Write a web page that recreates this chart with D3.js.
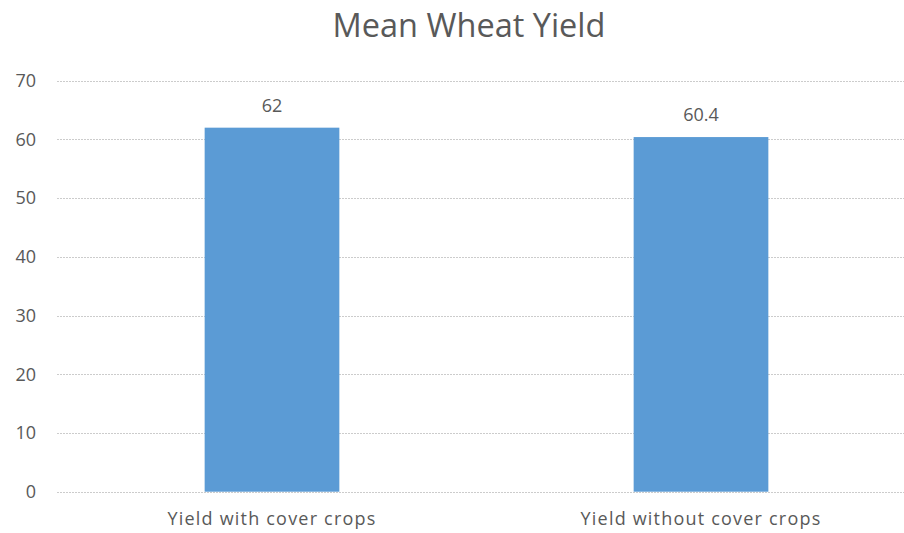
<!DOCTYPE html>
<html><head><meta charset="utf-8">
<script src="https://cdn.jsdelivr.net/npm/d3@7"></script>
<style>
html,body{margin:0;padding:0;background:#fff;}
text{font-family:"Open Sans",sans-serif;fill:#595959;}
</style></head>
<body><svg id="chart" width="904" height="533"></svg>
<script>
const categories = ["Yield with cover crops", "Yield without cover crops"];
const values = [62, 60.4];
const valueLabels = ["62", "60.4"];
const yTicks = [0, 10, 20, 30, 40, 50, 60, 70];
const title = "Mean Wheat Yield";

const svg = d3.select("#chart");
const x = d3.scaleBand().domain(categories).range([57.5, 915.5]).padding(0);
const y = d3.scaleLinear().domain([0, 70]).range([491.7, 80.7]);
const barW = x.bandwidth() * 0.314;

svg.append("text").attr("x", 469).attr("y", 37).attr("text-anchor", "middle")
  .style("font-size", "32.5px").text(title);

// gridlines
svg.append("g").selectAll("line").data(yTicks).join("line")
  .attr("x1", 57).attr("x2", 904)
  .attr("y1", d => Math.round(y(d)) + 0.5).attr("y2", d => Math.round(y(d)) + 0.5)
  .attr("stroke", "#cccccc").attr("stroke-width", 1).attr("stroke-dasharray", "2,1");

// y axis labels
const yAxis = d3.axisLeft(y).tickValues(yTicks).tickSize(0).tickPadding(0);
const gy = svg.append("g").attr("transform", "translate(36,0)").call(yAxis);
gy.select(".domain").remove();
gy.selectAll("text").style("font-size", "18px").style("font-family", "'Open Sans',sans-serif").attr("fill", "#595959");

// bars
svg.append("g").selectAll("rect").data(values).join("rect")
  .attr("x", (d, i) => x(categories[i]) + x.bandwidth() / 2 - barW / 2)
  .attr("width", barW)
  .attr("y", d => y(d))
  .attr("height", d => y(0) - y(d))
  .attr("fill", "#5b9bd5");

// value labels
svg.append("g").selectAll("text").data(values).join("text")
  .attr("x", (d, i) => x(categories[i]) + x.bandwidth() / 2)
  .attr("y", d => y(d) - 16)
  .attr("text-anchor", "middle").style("font-size", "18px")
  .text((d, i) => valueLabels[i]);

// x axis labels
const xAxis = d3.axisBottom(x).tickSize(0).tickPadding(0);
const gx = svg.append("g").attr("transform", "translate(0,512)").call(xAxis);
gx.select(".domain").remove();
gx.selectAll("text").style("font-size", "18px").style("letter-spacing", "1.2px")
  .style("font-family", "'Open Sans',sans-serif").attr("fill", "#595959");
</script></body></html>
